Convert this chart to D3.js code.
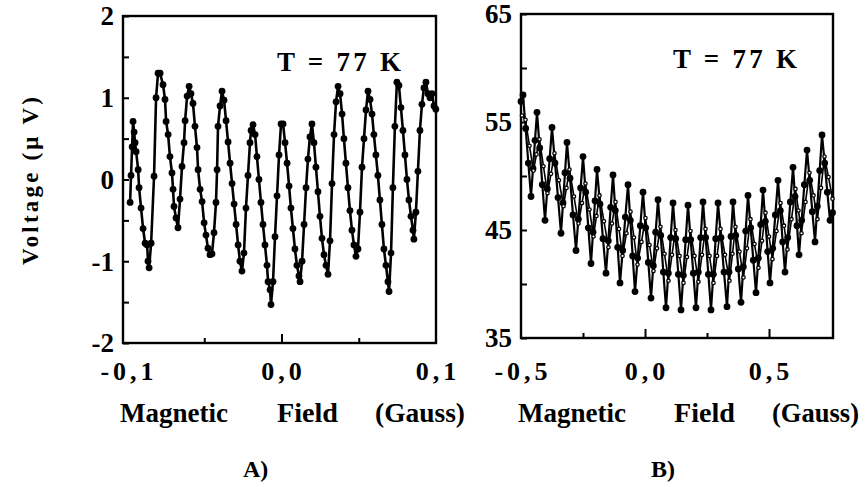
<!DOCTYPE html>
<html>
<head>
<meta charset="utf-8">
<script src="https://cdn.jsdelivr.net/npm/d3@7"></script>
<style>
  body { margin: 0; background: #fff; }
  text { font-family: "Liberation Serif", "Times New Roman", serif; font-weight: bold; fill: #000; }
</style>
</head>
<body>
<svg id="chart" width="866" height="487"></svg>
<script>
// panel A: field (Gauss) and voltage (uV)
var fieldA = [-0.0980,-0.0974,-0.0967,-0.0961,-0.0954,-0.0948,-0.0941,-0.0928,-0.0922,-0.0909,
  -0.0896,-0.0883,-0.0870,-0.0864,-0.0857,-0.0844,-0.0825,-0.0812,-0.0799,-0.0786,
  -0.0767,-0.0754,-0.0747,-0.0734,-0.0722,-0.0709,-0.0702,-0.0696,-0.0683,-0.0670,
  -0.0657,-0.0644,-0.0631,-0.0624,-0.0611,-0.0598,-0.0586,-0.0573,-0.0560,-0.0547,
  -0.0540,-0.0527,-0.0514,-0.0501,-0.0489,-0.0476,-0.0463,-0.0450,-0.0437,-0.0424,
  -0.0417,-0.0411,-0.0398,-0.0385,-0.0372,-0.0359,-0.0346,-0.0333,-0.0320,-0.0307,
  -0.0294,-0.0281,-0.0269,-0.0256,-0.0243,-0.0230,-0.0217,-0.0204,-0.0197,-0.0184,
  -0.0171,-0.0159,-0.0146,-0.0133,-0.0120,-0.0107,-0.0094,-0.0087,-0.0074,-0.0068,
  -0.0055,-0.0042,-0.0029,-0.0016,-0.0003,0.0010,0.0023,0.0036,0.0049,0.0061,
  0.0074,0.0087,0.0100,0.0113,0.0120,0.0133,0.0146,0.0159,0.0171,0.0184,
  0.0197,0.0210,0.0223,0.0236,0.0249,0.0262,0.0275,0.0288,0.0301,0.0314,
  0.0327,0.0340,0.0353,0.0366,0.0379,0.0392,0.0404,0.0417,0.0430,0.0443,
  0.0456,0.0469,0.0482,0.0495,0.0508,0.0521,0.0534,0.0547,0.0560,0.0573,
  0.0586,0.0598,0.0611,0.0624,0.0637,0.0650,0.0663,0.0676,0.0689,0.0696,
  0.0709,0.0721,0.0734,0.0747,0.0760,0.0773,0.0786,0.0799,0.0812,0.0825,
  0.0838,0.0851,0.0857,0.0870,0.0883,0.0896,0.0909,0.0922,0.0935,0.0948,
  0.0961,0.0974,0.0987,0.0999];
var voltA = [-0.28,0.05,0.40,0.71,0.58,0.45,0.34,0.12,-0.10,-0.35,
  -0.60,-0.78,-0.80,-1.00,-1.08,-0.78,0.04,1.00,1.30,1.30,
  1.16,0.98,0.71,0.55,0.28,0.08,-0.12,-0.33,-0.47,-0.59,
  -0.24,0.16,0.45,0.72,1.02,1.14,1.05,0.93,0.65,0.39,
  0.12,-0.12,-0.27,-0.53,-0.68,-0.84,-0.92,-0.91,-0.65,-0.28,
  0.12,0.65,0.90,1.08,0.97,0.72,0.46,0.20,-0.05,-0.30,
  -0.55,-0.80,-1.00,-1.12,-0.90,-0.35,0.05,0.45,0.60,0.67,
  0.55,0.28,0.00,-0.28,-0.55,-0.80,-1.05,-1.25,-1.35,-1.53,
  -1.25,-0.70,-0.20,0.30,0.68,0.68,0.45,0.20,-0.08,-0.35,
  -0.60,-0.85,-1.05,-1.18,-1.25,-1.00,-0.55,-0.10,0.25,0.52,
  0.68,0.45,0.15,-0.15,-0.45,-0.72,-0.92,-1.05,-1.16,-0.75,
  -0.05,0.55,0.95,1.14,1.05,0.80,0.50,0.20,-0.10,-0.38,
  -0.62,-0.80,-0.94,-0.85,-0.40,0.15,0.50,0.85,1.08,0.98,
  0.80,0.55,0.30,0.05,-0.25,-0.55,-0.85,-1.05,-1.25,-1.37,
  -0.90,-0.10,0.65,1.19,1.15,0.88,0.60,0.30,0.00,-0.25,
  -0.45,-0.62,-0.73,-0.40,0.10,0.60,0.92,1.12,1.19,1.05,
  1.00,1.05,0.90,0.86];

// panel B, filled markers
var fieldB1 = [-0.5000,-0.4919,-0.4812,-0.4704,-0.4597,-0.4516,-0.4436,
  -0.4355,-0.4247,-0.4140,-0.4032,-0.3938,-0.3844,
  -0.3750,-0.3629,-0.3508,-0.3387,-0.3306,-0.3226,
  -0.3145,-0.3024,-0.2903,-0.2782,-0.2688,-0.2594,
  -0.2500,-0.2392,-0.2285,-0.2177,-0.2096,-0.2016,
  -0.1935,-0.1814,-0.1694,-0.1573,-0.1479,-0.1384,
  -0.1290,-0.1196,-0.1102,-0.1008,-0.0900,-0.0793,
  -0.0685,-0.0591,-0.0497,-0.0403,-0.0296,-0.0188,
  -0.0081,0.0027,0.0134,0.0242,0.0336,0.0430,
  0.0524,0.0632,0.0739,0.0847,0.0941,0.1035,
  0.1129,0.1237,0.1344,0.1452,0.1546,0.1640,
  0.1734,0.1841,0.1949,0.2056,0.2150,0.2245,
  0.2339,0.2446,0.2554,0.2661,0.2755,0.2850,
  0.2944,0.3065,0.3185,0.3306,0.3387,0.3467,
  0.3548,0.3656,0.3763,0.3871,0.3965,0.4059,
  0.4153,0.4261,0.4368,0.4476,0.4570,0.4664,
  0.4758,0.4852,0.4946,0.5040,0.5148,0.5255,
  0.5363,0.5457,0.5551,0.5645,0.5753,0.5860,
  0.5968,0.6049,0.6129,0.6210,0.6317,0.6425,
  0.6532,0.6640,0.6747,0.6855,0.6949,0.7043,
  0.7137,0.7245,0.7352,0.7460,0.7560];
var voltB1 = [56.9,57.5,54.4,51.2,48.1,50.7,53.3,
  55.9,52.6,49.2,45.9,48.8,51.6,
  54.5,51.2,48.0,44.7,47.5,50.3,
  53.1,49.8,46.4,43.1,46.0,48.9,
  51.8,48.5,45.2,41.9,44.8,47.7,
  50.6,47.4,44.2,41.0,44.0,47.1,
  50.1,46.8,43.4,40.1,43.1,46.2,
  49.2,45.9,42.6,39.3,42.4,45.4,
  48.5,45.2,42.0,38.7,41.7,44.8,
  47.8,44.5,41.1,37.8,41.0,44.3,
  47.5,44.2,40.9,37.6,40.8,44.1,
  47.3,44.1,41.0,37.8,41.1,44.3,
  47.6,44.3,40.9,37.6,40.9,44.2,
  47.5,44.3,41.1,37.9,41.1,44.4,
  47.6,44.5,41.4,38.3,41.6,44.9,
  48.2,45.2,42.2,39.2,42.4,45.5,
  48.7,45.8,43.0,40.1,43.3,46.4,
  49.6,46.8,43.9,41.1,44.3,47.6,
  50.8,48.1,45.4,42.7,45.9,49.2,
  52.4,49.6,46.7,43.9,47.2,50.5,
  53.8,51.2,48.5,45.9,46.6];

// panel B, open markers
var fieldB2 = [-0.4960,-0.4819,-0.4658,-0.4497,-0.4376,
  -0.4255,-0.4094,-0.3932,-0.3791,
  -0.3650,-0.3469,-0.3287,-0.3166,
  -0.3045,-0.2864,-0.2682,-0.2541,
  -0.2400,-0.2239,-0.2077,-0.1956,
  -0.1835,-0.1654,-0.1473,-0.1332,
  -0.1190,-0.1049,-0.0908,-0.0747,
  -0.0585,-0.0444,-0.0303,-0.0142,
  0.0019,0.0181,0.0342,0.0483,
  0.0624,0.0786,0.0947,0.1088,
  0.1229,0.1391,0.1552,0.1693,
  0.1834,0.1995,0.2156,0.2298,
  0.2439,0.2600,0.2761,0.2903,
  0.3044,0.3225,0.3406,0.3527,
  0.3648,0.3810,0.3971,0.4112,
  0.4253,0.4415,0.4576,0.4717,
  0.4858,0.4999,0.5140,0.5302,
  0.5463,0.5604,0.5745,0.5907,
  0.6068,0.6189,0.6310,0.6471,
  0.6632,0.6794,0.6955,0.7096,
  0.7237,0.7399,0.7560];
var voltB2 = [55.6,55.2,52.8,50.5,52.0,
  53.4,50.9,48.4,50.2,
  52.1,49.6,47.2,48.9,
  50.6,48.1,45.6,47.5,
  49.3,46.9,44.4,46.3,
  48.2,45.8,43.4,45.6,
  47.6,45.1,42.6,44.7,
  46.7,44.3,41.8,43.9,
  46.1,43.6,41.2,43.3,
  45.3,42.8,40.3,42.7,
  45.0,42.6,40.1,42.5,
  44.9,42.6,40.2,42.7,
  45.1,42.6,40.1,42.6,
  45.1,42.7,40.3,42.8,
  45.3,43.0,40.6,43.3,
  46.0,43.7,41.5,44.0,
  46.6,44.4,42.3,44.9,
  47.5,45.4,43.2,46.0,
  48.8,46.8,44.7,47.6,
  50.3,48.2,46.0,48.9,
  51.8,49.9,47.9];

// ticks
var ticksAX = [-0.1, 0, 0.1], labelsAX = ["-0,1", "0,0", "0,1"];
var majorAX = [0], minorAX = [-0.05, 0.05];
var ticksAY = [-2, -1, 0, 1, 2], labelsAY = ["-2", "-1", "0", "1", "2"];
var minorAY = [-1.5, -0.5, 0.5, 1.5];
var ticksBX = [-0.5, 0, 0.5], labelsBX = ["-0,5", "0,0", "0,5"];
var majorBX = [0, 0.5], minorBX = [-0.25, 0.25];
var ticksBY = [35, 45, 55, 65], labelsBY = ["35", "45", "55", "65"];
var minorBY = [40, 50, 60];

var svg = d3.select("#chart");

function zip(xs, ys) {
  return xs.map(function(v, i) { return [v, ys[i]]; });
}

function drawPanel(p) {
  var x = d3.scaleLinear().domain(p.xDomain).range([p.left, p.right]);
  var y = d3.scaleLinear().domain(p.yDomain).range([p.bottom, p.top]);
  var g = svg.append("g");

  function tickAxis(axis, tr) {
    var a = g.append("g").attr("transform", tr).call(axis);
    a.select(".domain").remove();
    a.selectAll("line").attr("stroke", "#000").attr("stroke-width", 2);
  }
  tickAxis(d3.axisBottom(x).tickValues(p.xMajor).tickSize(-9).tickFormat(""), "translate(0," + p.bottom + ")");
  tickAxis(d3.axisBottom(x).tickValues(p.xMinor).tickSize(-5).tickFormat(""), "translate(0," + p.bottom + ")");
  tickAxis(d3.axisLeft(y).tickValues(p.yTicks.concat(p.yMinor)).tickSize(-6).tickFormat(""), "translate(" + p.left + ",0)");

  // frame
  g.append("rect")
    .attr("x", p.left).attr("y", p.top)
    .attr("width", p.right - p.left).attr("height", p.bottom - p.top)
    .attr("fill", "none").attr("stroke", "#000").attr("stroke-width", 2.4);

  // tick labels
  g.selectAll(".xl").data(p.xTicks).enter().append("text")
    .attr("x", function(d) { return x(d) + 2; })
    .attr("y", 380)
    .attr("text-anchor", "middle")
    .style("font-size", "26px")
    .style("letter-spacing", "4px")
    .text(function(d, i) { return p.xLabels[i]; });

  g.selectAll(".yl").data(p.yTicks).enter().append("text")
    .attr("x", p.left - 9)
    .attr("y", function(d) { return y(d); })
    .attr("dy", "0.35em")
    .attr("text-anchor", "end")
    .style("font-size", "27px")
    .text(function(d, i) { return p.yLabels[i]; });

  var line = d3.line().x(function(d) { return x(d[0]); }).y(function(d) { return y(d[1]); });

  p.series.forEach(function(s) {
    var pts = zip(s.x, s.y);
    g.append("path").datum(pts)
      .attr("d", line)
      .attr("fill", "none")
      .attr("stroke", "#000")
      .attr("stroke-width", s.width)
      .attr("stroke-linejoin", "round");
    g.selectAll(null).data(pts).enter().append("circle")
      .attr("cx", function(d) { return x(d[0]); })
      .attr("cy", function(d) { return y(d[1]); })
      .attr("r", s.r)
      .attr("fill", s.open ? "#fff" : "#000")
      .attr("stroke", "#000")
      .attr("stroke-width", s.open ? 1.3 : 0);
  });

  g.append("text")
    .attr("x", p.tx).attr("y", p.ty)
    .attr("textLength", 124)
    .attr("lengthAdjust", "spacing")
    .style("font-size", "27px")
    .text("T = 77 K");

  // x title, word by word
  p.title.forEach(function(w) {
    g.append("text")
      .attr("x", w[1]).attr("y", 422)
      .attr("textLength", w[2])
      .attr("lengthAdjust", "spacingAndGlyphs")
      .style("font-size", "28px")
      .text(w[0]);
  });

  g.append("text")
    .attr("x", p.px).attr("y", 477)
    .style("font-size", "24px")
    .text(p.panel);
}

drawPanel({
  left: 123, right: 436, top: 16, bottom: 343,
  xDomain: [-0.1026, 0.1], yDomain: [-2, 2],
  xTicks: ticksAX, xLabels: labelsAX, xMajor: majorAX, xMinor: minorAX,
  yTicks: ticksAY, yLabels: labelsAY, yMinor: minorAY,
  series: [{ x: fieldA, y: voltA, r: 3.4, width: 2.6, open: false }],
  tx: 277, ty: 71,
  title: [["Magnetic", 120, 108], ["Field", 277, 61], ["(Gauss)", 375, 90]],
  px: 243, panel: "A)"
});

drawPanel({
  left: 521, right: 833, top: 14, bottom: 338,
  xDomain: [-0.5, 0.758], yDomain: [35, 65],
  xTicks: ticksBX, xLabels: labelsBX, xMajor: majorBX, xMinor: minorBX,
  yTicks: ticksBY, yLabels: labelsBY, yMinor: minorBY,
  series: [
    { x: fieldB1, y: voltB1, r: 3.4, width: 2.2, open: false },
    { x: fieldB2, y: voltB2, r: 1.7, width: 1.6, open: true }
  ],
  tx: 673, ty: 68,
  title: [["Magnetic", 518, 108], ["Field", 674, 61], ["(Gauss)", 772, 87]],
  px: 651, panel: "B)"
});

// y axis title
svg.append("text")
  .attr("transform", "translate(38,181) rotate(-90)")
  .attr("text-anchor", "middle")
  .attr("textLength", 168)
  .attr("lengthAdjust", "spacing")
  .style("font-size", "23px")
  .text("Voltage (\u03bc V)");
</script>
</body>
</html>
